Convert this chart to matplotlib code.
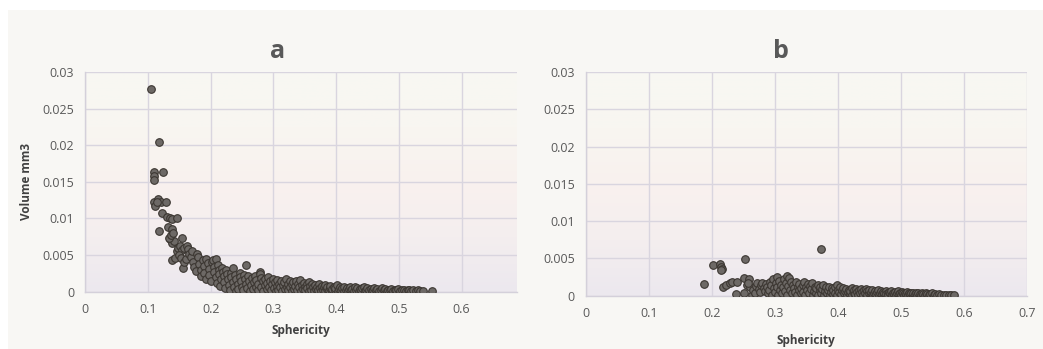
import numpy as np
import matplotlib
matplotlib.use('Agg')
import matplotlib.pyplot as plt
from matplotlib.colors import LinearSegmentedColormap
from matplotlib.patches import Rectangle

plt.rcParams['font.family'] = ['Open Sans', 'DejaVu Sans']

# (sphericity, volume mm3) pairs for sample a
panel_a = [
    (0.104, 0.0277), (0.118, 0.0204), (0.109, 0.0163), (0.110, 0.0158), (0.110, 0.0153), (0.124, 0.0164),
    (0.110, 0.0122), (0.111, 0.0117), (0.116, 0.0127), (0.121, 0.0122), (0.128, 0.0122), (0.115, 0.0123),
    (0.122, 0.0108), (0.117, 0.0083), (0.131, 0.0102), (0.135, 0.0100), (0.138, 0.0099), (0.147, 0.0100),
    (0.132, 0.0089), (0.139, 0.0085), (0.135, 0.0072), (0.138, 0.0066), (0.141, 0.0069), (0.133, 0.0074),
    (0.137, 0.0078), (0.140, 0.0080), (0.154, 0.0073), (0.139, 0.0043), (0.143, 0.0046), (0.146, 0.0055),
    (0.148, 0.0060), (0.151, 0.0062), (0.154, 0.0057), (0.157, 0.0060), (0.162, 0.0062), (0.164, 0.0058),
    (0.150, 0.0050), (0.152, 0.0046), (0.156, 0.0032), (0.158, 0.0040), (0.160, 0.0045), (0.165, 0.0052),
    (0.168, 0.0048), (0.170, 0.0055), (0.172, 0.0041), (0.174, 0.0034), (0.176, 0.0028), (0.178, 0.0052),
    (0.180, 0.0047), (0.182, 0.0038), (0.184, 0.0030), (0.185, 0.0022), (0.187, 0.0043), (0.189, 0.0035),
    (0.190, 0.0026), (0.192, 0.0018), (0.193, 0.0044), (0.195, 0.0039), (0.197, 0.0031), (0.198, 0.0023),
    (0.200, 0.0015), (0.202, 0.0041), (0.204, 0.0043), (0.205, 0.0034), (0.206, 0.0027), (0.208, 0.0020),
    (0.209, 0.0044), (0.210, 0.0012), (0.211, 0.0036), (0.213, 0.0030), (0.214, 0.0024), (0.215, 0.0008),
    (0.216, 0.0017), (0.218, 0.0032), (0.220, 0.0027), (0.221, 0.0021), (0.222, 0.0013), (0.223, 0.0005),
    (0.225, 0.0030), (0.226, 0.0024), (0.228, 0.0017), (0.229, 0.0009), (0.231, 0.0003), (0.232, 0.0026),
    (0.233, 0.0020), (0.235, 0.0032), (0.236, 0.0013), (0.237, 0.0006), (0.239, 0.0023), (0.240, 0.0017),
    (0.241, 0.0001), (0.243, 0.0010), (0.244, 0.0004), (0.246, 0.0026), (0.247, 0.0020), (0.249, 0.0014),
    (0.250, 0.0007), (0.252, 0.0002), (0.253, 0.0023), (0.254, 0.0017), (0.256, 0.0036), (0.257, 0.0011),
    (0.258, 0.0005), (0.260, 0.0021), (0.261, 0.0015), (0.263, 0.0001), (0.264, 0.0009), (0.266, 0.0019),
    (0.267, 0.0004), (0.269, 0.0013), (0.270, 0.0022), (0.272, 0.0007), (0.273, 0.0016), (0.275, 0.0002),
    (0.276, 0.0011), (0.278, 0.0027), (0.279, 0.0024), (0.280, 0.0019), (0.281, 0.0006), (0.283, 0.0014),
    (0.284, 0.0001), (0.286, 0.0009), (0.287, 0.0018), (0.289, 0.0004), (0.290, 0.0012), (0.292, 0.0020),
    (0.293, 0.0007), (0.295, 0.0015), (0.296, 0.0002), (0.298, 0.0010), (0.299, 0.0018), (0.301, 0.0005),
    (0.302, 0.0013), (0.304, 0.0001), (0.305, 0.0008), (0.306, 0.0016), (0.308, 0.0003), (0.309, 0.0011),
    (0.311, 0.0006), (0.312, 0.0015), (0.314, 0.0001), (0.315, 0.0009), (0.317, 0.0013), (0.318, 0.0004),
    (0.320, 0.0017), (0.321, 0.0007), (0.323, 0.0011), (0.324, 0.0002), (0.326, 0.0014), (0.327, 0.0006),
    (0.329, 0.0010), (0.330, 0.0001), (0.332, 0.0013), (0.333, 0.0004), (0.335, 0.0008), (0.336, 0.0015),
    (0.338, 0.0002), (0.339, 0.0011), (0.341, 0.0006), (0.342, 0.0016), (0.344, 0.0001), (0.345, 0.0009),
    (0.347, 0.0004), (0.348, 0.0012), (0.350, 0.0007), (0.351, 0.0002), (0.353, 0.0010), (0.354, 0.0005),
    (0.356, 0.0013), (0.357, 0.0001), (0.359, 0.0008), (0.360, 0.0003), (0.362, 0.0011), (0.363, 0.0006),
    (0.365, 0.0001), (0.366, 0.0009), (0.368, 0.0004), (0.369, 0.0007), (0.371, 0.0002), (0.372, 0.0010),
    (0.374, 0.0005), (0.376, 0.0001), (0.377, 0.0008), (0.379, 0.0003), (0.380, 0.0006), (0.382, 0.0001),
    (0.383, 0.0009), (0.385, 0.0004), (0.386, 0.0007), (0.388, 0.0002), (0.390, 0.0005), (0.391, 0.0008),
    (0.393, 0.0001), (0.394, 0.0004), (0.396, 0.0007), (0.398, 0.0002), (0.399, 0.0005), (0.401, 0.0009),
    (0.403, 0.0001), (0.404, 0.0004), (0.406, 0.0006), (0.408, 0.0002), (0.410, 0.0005), (0.412, 0.0001),
    (0.413, 0.0007), (0.415, 0.0003), (0.417, 0.0005), (0.419, 0.0001), (0.420, 0.0004), (0.422, 0.0006),
    (0.424, 0.0002), (0.426, 0.0004), (0.428, 0.0001), (0.430, 0.0006), (0.432, 0.0003), (0.434, 0.0005),
    (0.436, 0.0001), (0.438, 0.0004), (0.440, 0.0002), (0.442, 0.0005), (0.444, 0.0007), (0.446, 0.0001),
    (0.448, 0.0003), (0.450, 0.0005), (0.452, 0.0002), (0.455, 0.0004), (0.457, 0.0001), (0.459, 0.0003),
    (0.461, 0.0005), (0.464, 0.0002), (0.466, 0.0004), (0.468, 0.0001), (0.471, 0.0003), (0.473, 0.0005),
    (0.476, 0.0002), (0.478, 0.0004), (0.481, 0.0001), (0.483, 0.0003), (0.486, 0.0002), (0.488, 0.0004),
    (0.491, 0.0001), (0.494, 0.0003), (0.496, 0.0002), (0.499, 0.0004), (0.502, 0.0001), (0.505, 0.0003),
    (0.508, 0.0002), (0.511, 0.0001), (0.514, 0.0003), (0.517, 0.0002), (0.520, 0.0001), (0.523, 0.0002),
    (0.527, 0.0001), (0.530, 0.0002), (0.534, 0.0001), (0.538, 0.0001), (0.553, 0.0001),
]

# (sphericity, volume mm3) pairs for sample b
panel_b = [
    (0.187, 0.0016), (0.202, 0.0041), (0.213, 0.0043), (0.214, 0.0039), (0.216, 0.0036), (0.215, 0.0034),
    (0.253, 0.0049), (0.373, 0.0063), (0.218, 0.0012), (0.222, 0.0015), (0.228, 0.0017), (0.232, 0.0019),
    (0.240, 0.0018), (0.239, 0.0002), (0.251, 0.0004), (0.251, 0.0024), (0.259, 0.0022), (0.255, 0.0014),
    (0.261, 0.0012), (0.257, 0.0017), (0.263, 0.0001), (0.265, 0.0008), (0.268, 0.0004), (0.270, 0.0013),
    (0.272, 0.0017), (0.274, 0.0009), (0.276, 0.0005), (0.278, 0.0014), (0.280, 0.0017), (0.282, 0.0010),
    (0.284, 0.0006), (0.286, 0.0016), (0.288, 0.0012), (0.289, 0.0003), (0.291, 0.0008), (0.293, 0.0019),
    (0.294, 0.0014), (0.296, 0.0001), (0.297, 0.0023), (0.298, 0.0010), (0.300, 0.0005), (0.301, 0.0017),
    (0.303, 0.0025), (0.304, 0.0012), (0.305, 0.0001), (0.307, 0.0020), (0.308, 0.0007), (0.310, 0.0015),
    (0.311, 0.0003), (0.313, 0.0011), (0.314, 0.0022), (0.316, 0.0006), (0.317, 0.0017), (0.319, 0.0001),
    (0.320, 0.0026), (0.321, 0.0013), (0.323, 0.0024), (0.324, 0.0008), (0.326, 0.0019), (0.327, 0.0003),
    (0.329, 0.0015), (0.330, 0.0010), (0.332, 0.0005), (0.333, 0.0018), (0.335, 0.0001), (0.336, 0.0012),
    (0.338, 0.0007), (0.339, 0.0016), (0.341, 0.0003), (0.342, 0.0010), (0.344, 0.0014), (0.345, 0.0005),
    (0.347, 0.0019), (0.348, 0.0001), (0.350, 0.0011), (0.351, 0.0007), (0.353, 0.0016), (0.354, 0.0003),
    (0.356, 0.0013), (0.357, 0.0009), (0.359, 0.0017), (0.360, 0.0001), (0.362, 0.0006), (0.363, 0.0012),
    (0.365, 0.0003), (0.366, 0.0010), (0.368, 0.0015), (0.369, 0.0001), (0.371, 0.0007), (0.372, 0.0012),
    (0.374, 0.0004), (0.375, 0.0009), (0.377, 0.0014), (0.378, 0.0001), (0.380, 0.0006), (0.381, 0.0011),
    (0.383, 0.0003), (0.384, 0.0008), (0.386, 0.0012), (0.387, 0.0001), (0.389, 0.0005), (0.390, 0.0010),
    (0.392, 0.0002), (0.393, 0.0007), (0.395, 0.0011), (0.396, 0.0004), (0.398, 0.0014), (0.399, 0.0001),
    (0.401, 0.0008), (0.402, 0.0005), (0.404, 0.0011), (0.405, 0.0002), (0.407, 0.0007), (0.408, 0.0010),
    (0.410, 0.0003), (0.411, 0.0006), (0.413, 0.0009), (0.414, 0.0001), (0.416, 0.0005), (0.417, 0.0008),
    (0.419, 0.0002), (0.420, 0.0006), (0.422, 0.0010), (0.423, 0.0001), (0.425, 0.0004), (0.426, 0.0007),
    (0.428, 0.0002), (0.429, 0.0009), (0.431, 0.0005), (0.432, 0.0001), (0.434, 0.0007), (0.435, 0.0003),
    (0.437, 0.0009), (0.438, 0.0005), (0.440, 0.0001), (0.441, 0.0007), (0.443, 0.0003), (0.444, 0.0009),
    (0.446, 0.0006), (0.447, 0.0001), (0.449, 0.0004), (0.450, 0.0007), (0.452, 0.0002), (0.453, 0.0005),
    (0.455, 0.0008), (0.456, 0.0001), (0.458, 0.0004), (0.459, 0.0006), (0.461, 0.0002), (0.462, 0.0005),
    (0.464, 0.0007), (0.465, 0.0001), (0.467, 0.0004), (0.468, 0.0006), (0.470, 0.0002), (0.471, 0.0005),
    (0.473, 0.0001), (0.474, 0.0003), (0.476, 0.0006), (0.477, 0.0002), (0.479, 0.0004), (0.480, 0.0001),
    (0.482, 0.0005), (0.483, 0.0003), (0.485, 0.0006), (0.486, 0.0001), (0.488, 0.0004), (0.489, 0.0002),
    (0.491, 0.0005), (0.492, 0.0001), (0.494, 0.0003), (0.495, 0.0006), (0.497, 0.0002), (0.498, 0.0004),
    (0.500, 0.0001), (0.502, 0.0005), (0.503, 0.0003), (0.505, 0.0001), (0.507, 0.0004), (0.508, 0.0002),
    (0.510, 0.0005), (0.512, 0.0001), (0.513, 0.0003), (0.515, 0.0002), (0.517, 0.0004), (0.519, 0.0001),
    (0.520, 0.0003), (0.522, 0.0002), (0.524, 0.0004), (0.526, 0.0001), (0.528, 0.0003), (0.530, 0.0002),
    (0.532, 0.0001), (0.534, 0.0003), (0.536, 0.0002), (0.538, 0.0001), (0.540, 0.0003), (0.542, 0.0002),
    (0.545, 0.0001), (0.547, 0.0002), (0.550, 0.0003), (0.552, 0.0001), (0.555, 0.0002), (0.558, 0.0001),
    (0.561, 0.0002), (0.564, 0.0001), (0.568, 0.0001), (0.572, 0.0001), (0.576, 0.0001), (0.580, 0.0001),
    (0.584, 0.0001),
]

x_ticks_a = [0, 0.1, 0.2, 0.3, 0.4, 0.5, 0.6]
x_ticks_b = [0, 0.1, 0.2, 0.3, 0.4, 0.5, 0.6, 0.7]
y_ticks = [0, 0.005, 0.01, 0.015, 0.02, 0.025, 0.03]
y_labels = ['0', '0.005', '0.01', '0.015', '0.02', '0.025', '0.03']

W, H = 1043, 349
fig = plt.figure(figsize=(W / 100, H / 100), dpi=100, facecolor='white')
fig.patches.append(Rectangle((8 / W, 0), 1, 1 - 10 / H, transform=fig.transFigure,
                             facecolor='#f8f7f4', edgecolor='none', zorder=-10))

tlo = LinearSegmentedColormap.from_list('tlo', ['#ece8ee', '#f4eeef', '#f9f1ee', '#f8f6f1', '#f8f8f3'])
grad = np.linspace(0, 1, 256).reshape(-1, 1)


def rysuj(rect, dane, xmax, xticks, tytul, tytul_xy, ylabel, xpad):
    ax = fig.add_axes(rect)
    ax.set_facecolor('none')
    ax.imshow(grad, aspect='auto', cmap=tlo, origin='lower',
              extent=(0, xmax, 0, 0.03), zorder=0)
    x, y = np.array(dane).T
    ax.scatter(x, y, s=30, c='#6d6966', edgecolors='#3b3631', linewidths=0.8, zorder=3)
    ax.set_xlim(0, xmax)
    ax.set_ylim(0, 0.03)
    ax.set_xticks(xticks)
    ax.set_xticklabels([('%g' % t) for t in xticks])
    ax.set_yticks(y_ticks)
    ax.set_yticklabels(y_labels)
    ax.grid(True, color='#d9d5df', linewidth=1.0, zorder=1)
    ax.set_axisbelow(True)
    for s in ['top', 'right']:
        ax.spines[s].set_visible(False)
    for s in ['left', 'bottom']:
        ax.spines[s].set_color('#d4d0da')
        ax.spines[s].set_linewidth(1.0)
    ax.tick_params(length=0, labelsize=9, labelcolor='#595959', pad=8)
    ax.set_xlabel('Sphericity', fontsize=8.5, fontweight='bold', color='#404040', labelpad=xpad)
    if ylabel:
        ax.set_ylabel('Volume mm3', fontsize=8.5, fontweight='bold', color='#404040', labelpad=7)
    fig.text(tytul_xy[0] / W, 1 - tytul_xy[1] / H, tytul, fontsize=18, fontweight='bold',
             color='#595959', ha='center', va='center')
    return ax


rysuj([85.3 / W, 1 - 291.7 / H, (517 - 85.3) / W, (291.7 - 72) / H],
      panel_a, 0.6885, x_ticks_a, 'a', (278, 52), True, 6)
rysuj([586 / W, 1 - 295.7 / H, (1026.7 - 586) / W, (295.7 - 72) / H],
      panel_b, 0.7, x_ticks_b, 'b', (781, 51), False, 10)

fig.savefig('out.png', dpi=100, facecolor=fig.get_facecolor())
